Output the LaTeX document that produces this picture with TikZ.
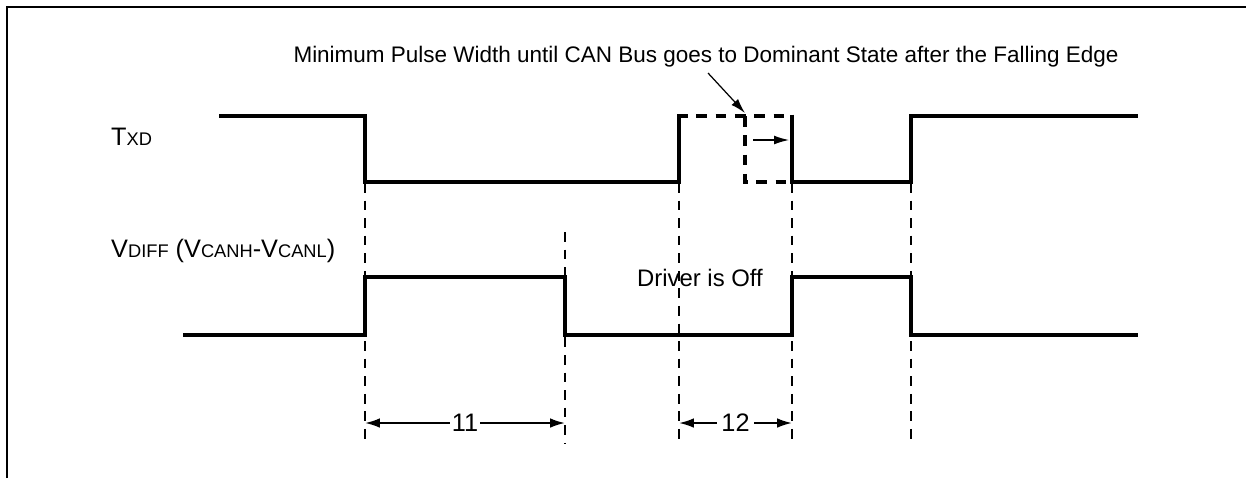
\documentclass[tikz,border=0pt]{standalone}
\usepackage{fontspec}
\setmainfont{Liberation Sans}
\usetikzlibrary{arrows.meta,calc,positioning}
\newcommand{\smc}[1]{{\fontsize{10.4pt}{12pt}\selectfont #1}}

\begin{document}
\begin{tikzpicture}[x=0.02cm, y=-0.02cm, font=\fontsize{14.4pt}{16pt}\selectfont,
    wave/.style={line width=2.6pt},
    guide/.style={line width=1.1pt, dash pattern=on 5.5pt off 4.5pt},
    hidden/.style={line width=2.4pt, dash pattern=on 6pt off 5pt},
    dim/.style={line width=1.1pt, {Latex[length=8.5pt,width=5.5pt]}-{Latex[length=8.5pt,width=5.5pt]}},
    pointer/.style={line width=0.7pt, -{Latex[length=8.5pt,width=5pt]}}]
    \useasboundingbox (0,0) rectangle (1246,478);
    \draw[line width=1.4pt] (7,478) -- (7,7) -- (1246,7);
    % edge guides, 1 unit = 1 px
    \foreach \n/\x/\y in {a/365/183,b/565/232,c/679/183,d/792/183,e/911/183} {
      \coordinate (top\n) at (\x,\y);
      \coordinate (bot\n) at (\x,443);
      \coordinate (dim\n) at (\x,423);
      \draw[guide] (top\n) -- (bot\n);
    }
    \node[anchor=west] (txd) at (105,137) {T\smc{XD}};
    \node[anchor=west] (vdiff) at (105,251) {V\smc{DIFF} (V\smc{CANH}-V\smc{CANL})};
    \node[font=\fontsize{12.8pt}{15pt}\selectfont] (note) at (706,57) {Minimum Pulse Width until CAN Bus goes to Dominant State after the Falling Edge};
    \node[font=\fontsize{13.6pt}{15pt}\selectfont] (off) at (700,278) {Driver is Off};
    % TXD
    \draw[wave] (219,116) -- (365,116) -- (365,182) -- (679,182) -- (679,116);
    \draw[hidden] (677,116) -- (792,116);
    \draw[hidden] (745,116) -- (745,182) -- (792,182);
    \draw[wave] (792,114.7) -- (792,182) -- (911,182) -- (911,116) -- (1138,116);
    % VDIFF
    \draw[wave] (183,335) -- (365,335) -- (365,277) -- (565,277) -- (565,335)
      -- (792,335) -- (792,277) -- (911,277) -- (911,335) -- (1138,335);
    \coordinate (tip) at (745,113);
    \draw[pointer] (708,73) -- (tip);
    \coordinate (sa) at (753,140);
    \coordinate (sb) at (789,140);
    \draw[pointer] (sa) -- (sb);
    \draw[dim] (dima) -- node[fill=white, inner sep=1pt] (w11) {11} (dimb);
    \draw[dim] (dimc) -- node[fill=white, inner sep=2.5pt] (w12) {12} (dimd);
\end{tikzpicture}
\end{document}
